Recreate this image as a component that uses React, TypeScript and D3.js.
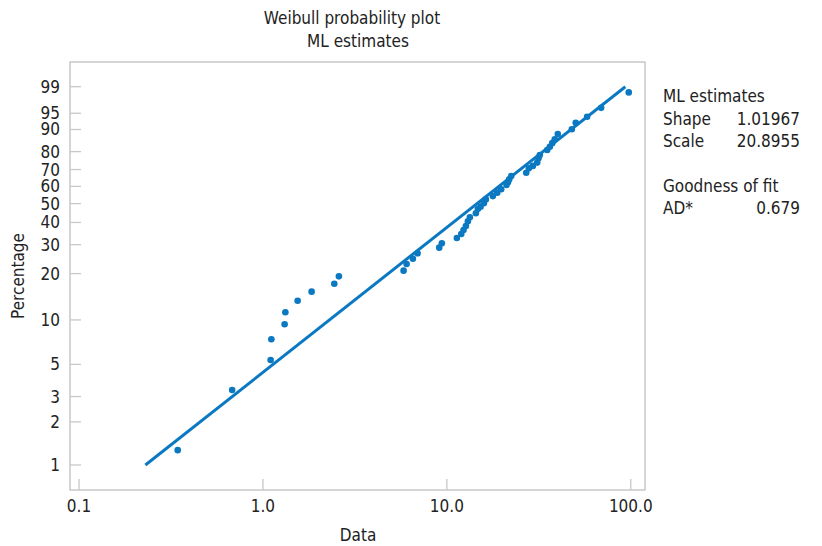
import React from "react";
import * as d3 from "d3";

const dataValues = [
  0.344, 0.68, 1.101, 1.111, 1.312, 1.324, 1.544, 1.839, 2.443, 2.588,
  5.817, 6.04, 6.535, 6.93, 9.09, 9.39, 11.33, 11.98, 12.32, 12.69,
  13.01, 13.34, 14.38, 14.74, 15.25, 15.89, 16.29, 17.78, 18.79, 19.75,
  21.11, 21.5, 21.83, 22.39, 27.01, 27.91, 29.34, 30.99, 31.5, 32.02,
  35.13, 36.3, 37.4, 38.6, 40.1, 47.8, 50.2, 57.9, 69.0, 97.5,
];
const percentValues = [
  1.27, 3.33, 5.36, 7.41, 9.35, 11.24, 13.39, 15.34, 17.25, 19.22,
  20.86, 22.96, 24.72, 26.66, 28.8, 30.56, 32.79, 34.53, 36.36, 38.27,
  40.58, 42.62, 44.71, 47.0, 48.3, 50.2, 52.4, 54.3, 56.3, 58.3,
  60.8, 62.4, 64.2, 66.2, 68.1, 70.7, 72.1, 74.0, 76.4, 78.2,
  80.8, 82.5, 84.2, 86.0, 88.2, 90.1, 92.3, 94.1, 96.2, 98.5,
];
const yTickLabels = [1, 2, 3, 5, 10, 20, 30, 40, 50, 60, 70, 80, 90, 95, 99];
const xTickValues = [0.1, 1, 10, 100];
const xTickLabels = ["0.1", "1.0", "10.0", "100.0"];
const shape = 1.01967;
const scaleParam = 20.8955;
const fitRange = [1, 99];

const weib = (pct: number) => Math.log(-Math.log(1 - pct / 100));

const FONT = "'Liberation Sans Narrow', 'DejaVu Sans Condensed', 'Liberation Sans', Arial, sans-serif";
const BLUE = "#0a79c2";

export default function App() {
  const left = 70, right = 645, top = 62, bottom = 490;
  const x = d3.scaleLog().domain([0.0893, 119.5]).range([left, right]);
  const y = d3.scaleLinear().domain([weib(1), weib(99)]).range([465, 86.7]);

  const fitPts = fitRange.map((p) => {
    const w = weib(p);
    const v = Math.exp(w / shape + Math.log(scaleParam));
    return [x(v), y(w)] as [number, number];
  });
  const line = d3.line()(fitPts) || "";

  return (
    <svg width={822} height={546} style={{ position: "absolute", left: 0, top: 0, background: "#fff" }} fontFamily={FONT}>
      <rect x={0} y={0} width={822} height={546} fill="#fff" />
      <text x={352} y={24} textAnchor="middle" fontSize={17} fill="#222">Weibull probability plot</text>
      <text x={358} y={47} textAnchor="middle" fontSize={17} fill="#222">ML estimates</text>
      <rect x={left} y={top} width={right - left} height={bottom - top} fill="none" stroke="#c8c8c8" strokeWidth={1.5} />
      {yTickLabels.map((t) => (
        <g key={"y" + t}>
          <line x1={left} x2={left + 11} y1={y(weib(t))} y2={y(weib(t))} stroke="#c8c8c8" strokeWidth={1.3} />
          <text x={60} y={y(weib(t)) + 6} textAnchor="end" fontSize={17} fill="#222">{t}</text>
        </g>
      ))}
      {xTickValues.map((t, i) => (
        <g key={"x" + t}>
          <line x1={x(t)} x2={x(t)} y1={bottom} y2={bottom - 11} stroke="#c8c8c8" strokeWidth={1.3} />
          <text x={x(t)} y={512} textAnchor="middle" fontSize={17} fill="#222">{xTickLabels[i]}</text>
        </g>
      ))}
      <text x={358} y={541} textAnchor="middle" fontSize={17} fill="#222">Data</text>
      <text transform="translate(24,276) rotate(-90)" textAnchor="middle" fontSize={17} fill="#222">Percentage</text>
      <path d={line} stroke={BLUE} strokeWidth={3} fill="none" />
      {dataValues.map((v, i) => (
        <circle key={i} cx={x(v)} cy={y(weib(percentValues[i]))} r={3.3} fill={BLUE} />
      ))}
      <g fontSize={17} fill="#222">
        <text x={663} y={102}>ML estimates</text>
        <text x={663} y={125}>Shape</text>
        <text x={800} y={125} textAnchor="end">1.01967</text>
        <text x={663} y={147}>Scale</text>
        <text x={800} y={147} textAnchor="end">20.8955</text>
        <text x={663} y={192}>Goodness of fit</text>
        <text x={663} y={214}>AD*</text>
        <text x={800} y={214} textAnchor="end">0.679</text>
      </g>
    </svg>
  );
}
